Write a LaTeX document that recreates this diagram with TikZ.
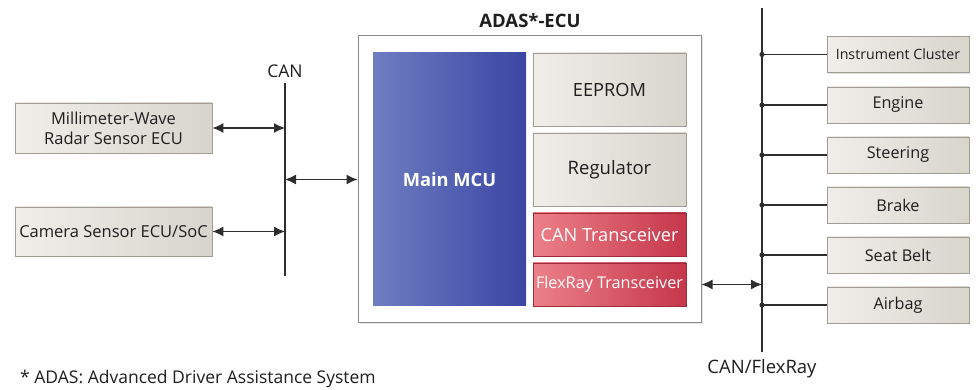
\documentclass[tikz,border=0pt]{standalone}
\usepackage{fontspec}
\setmainfont{Open Sans}
\usetikzlibrary{arrows.meta,shadows}
\definecolor{gboxL}{HTML}{F0EEE9}
\definecolor{gboxR}{HTML}{D8D5CD}
\definecolor{gboxD}{HTML}{A19D95}
\definecolor{mcuL}{HTML}{6F7DC2}
\definecolor{mcuR}{HTML}{3A46A2}
\definecolor{redL}{HTML}{EC8088}
\definecolor{redR}{HTML}{C5374B}
\definecolor{redD}{HTML}{9E2C3A}
\definecolor{lineC}{HTML}{2E2E2E}
\definecolor{txtC}{HTML}{1E1E1E}
\definecolor{ecuD}{HTML}{8A8A8A}
\begin{document}
\begin{tikzpicture}[x=1pt,y=-1pt,
  font=\fontsize{16}{19}\selectfont,
  every node/.style={inner sep=0pt, align=center, text=txtC},
  gbox/.style={draw=gboxD, line width=0.8pt, left color=gboxL, right color=gboxR,
    drop shadow={shadow xshift=1.2pt, shadow yshift=-1.2pt, opacity=0.25}},
  rbox/.style={draw=redD, line width=0.8pt, left color=redL, right color=redR, text=white},
  mcubox/.style={left color=mcuL, right color=mcuR, text=white},
  ecubox/.style={draw=ecuD, line width=1pt, fill=white,
    drop shadow={shadow xshift=1.5pt, shadow yshift=-1.5pt, opacity=0.2}},
  bus/.style={draw=lineC, line width=1.3pt},
  link/.style={draw=lineC, line width=1.2pt, {Latex[length=11pt,width=10pt]}-{Latex[length=11pt,width=10pt]}},
  tap/.style={draw=lineC, line width=1.1pt},
  dev/.style={gbox, minimum width=142pt, minimum height=36pt, font=\fontsize{16.2}{18}\selectfont}
]
\useasboundingbox (0,0) rectangle (978,390);

% left side
\node[gbox, minimum width=197pt, minimum height=50pt, font=\fontsize{16.5}{20}\selectfont] (mmw) at (113.5,128) {Millimeter-Wave\\Radar Sensor ECU};
\node[gbox, minimum width=197pt, minimum height=49pt, font=\fontsize{16.5}{18}\selectfont] (cam) at (113.5,231.5) {Camera Sensor ECU/SoC};

\coordinate (canT) at (285,83);
\coordinate (canB) at (285,276);
\node[font=\fontsize{17.5}{18}\selectfont] (canlbl) at (285,71) {CAN};
\draw[bus] (canT) -- (canB);

% ECU
\node[ecubox, minimum width=343pt, minimum height=287pt] (ecu) at (529.5,179.5) {};
\node[font=\bfseries\fontsize{18.5}{19}\selectfont] (ecut) at (530,21) {ADAS*-ECU};
\node[mcubox, minimum width=153pt, minimum height=253pt, font=\bfseries\fontsize{18.3}{19}\selectfont] (mcu) at (449.5,179.5) {Main MCU};
\node[gbox, minimum width=153pt, minimum height=73pt, font=\fontsize{18.2}{19}\selectfont] (eep) at (609.5,89.5) {EEPROM};
\node[gbox, minimum width=153pt, minimum height=73pt, font=\fontsize{18.5}{19}\selectfont] (reg) at (609.5,169.5) {Regulator};
\node[rbox, minimum width=153pt, minimum height=43pt, font=\fontsize{18.2}{19}\selectfont] (cant) at (609.5,234.5) {CAN Transceiver};
\node[rbox, minimum width=153pt, minimum height=43pt, font=\fontsize{16.2}{17}\selectfont] (frt) at (609.5,284.5) {FlexRay Transceiver};

% left links
\draw[link] (mmw.east) -- (mmw.east -| canT);
\draw[link] (cam.east) -- (cam.east -| canT);
\draw[link] (ecu.west -| canT) -- (ecu.west);

% right bus
\coordinate (frT) at (762,8);
\coordinate (frB) at (762,352);
\draw[bus] (frT) -- (frB);
\node[font=\fontsize{18.5}{19}\selectfont] (frlbl) at (762,369) {CAN/FlexRay};
\draw[link] (ecu.east |- frt.center) -- (frt.center -| frT);

\node[dev, font=\fontsize{14.2}{16}\selectfont] (d1) at (898,54.5) {Instrument Cluster};
\node[dev] (d2) at (898,105) {Engine};
\node[dev] (d3) at (898,155) {Steering};
\node[dev] (d4) at (898,205) {Brake};
\node[dev] (d5) at (898,255) {Seat Belt};
\node[dev] (d6) at (898,305) {Airbag};
\foreach \d in {d1,d2,d3,d4,d5,d6}{
  \draw[tap] (\d.west -| frT) -- (\d.west);
  \fill[lineC] (\d.west -| frT) circle (2.6pt);
}

\node[anchor=west, font=\fontsize{17.5}{19}\selectfont] (note) at (20,379) {* ADAS: Advanced Driver Assistance System};
\end{tikzpicture}
\end{document}
